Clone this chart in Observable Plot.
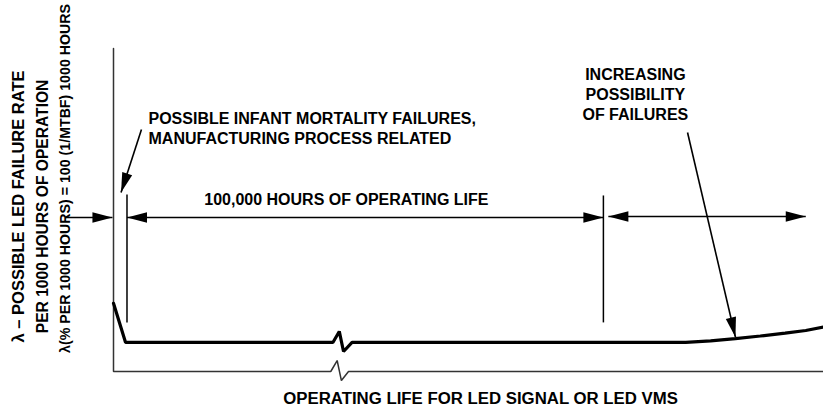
<!DOCTYPE html>
<html><head><meta charset="utf-8">
<script src="https://cdn.jsdelivr.net/npm/d3@7"></script>
<script src="https://cdn.jsdelivr.net/npm/@observablehq/plot@0.6"></script>
<style>body{margin:0;background:#fff}</style>
</head><body><div id="chart"></div>
<script>
// Bathtub curve: x = relative operating life (0-100), y = relative failure rate (0-100)
const curveLife = [0, 1.7, 30.9, 31.8, 32.4, 33.6, 80.6, 84.1, 87.6, 91.1, 94.6, 97.5, 100];
const curveRate = [21.1, 9.0, 9.0, 12.4, 6.2, 9.0, 9.0, 9.5, 10.2, 11.0, 11.9, 12.7, 13.8];

// axes (with break on the life axis)
const axisLife = [0, 0, 30.6, 31.5, 32.1, 33.1, 100];
const axisRate = [100, 0, 0, 3.4, -2.8, 0, 0];

// vertical boundary markers
const markerLife = [1.9, 69.0];
const markerTop = [54.8, 54.5];
const markerBottom = [15.2, 15.2];

// arrows
const arrowX1 = [-6.8, 1.9, 69.7, 3.94, 80.85];
const arrowY1 = [47.7, 47.7, 48.0, 74.9, 74.0];
const arrowX2 = [-0.15, 69.0, 97.5, 1.06, 87.6];
const arrowY2 = [47.7, 47.7, 48.0, 55.4, 10.6];
const arrowBoth = [false, true, true, false, false];

// text labels
const labelText = [
  "POSSIBLE INFANT MORTALITY FAILURES,\nMANUFACTURING PROCESS RELATED",
  "100,000 HOURS OF OPERATING LIFE",
  "INCREASING\nPOSSIBILITY\nOF FAILURES",
  "OPERATING LIFE FOR LED SIGNAL OR LED VMS"
];
const labelLife = [4.93, 32.8, 73.5, 51.7];
const labelRate = [70.4, 51.4, 78.0, -10.2];
const labelAnchor = ["start", "middle", "middle", "middle"];
const labelSize = [16, 16, 16, 16.8];

const yLabelText = [
  "\u03bb \u2013 POSSIBLE LED FAILURE RATE",
  "PER 1000 HOURS OF OPERATION",
  "\u03bb(% PER 1000 HOURS) = 100 (1/MTBF) 1000 HOURS"
];
const yLabelLife = [-13.4, -9.86, -6.83];
const yLabelRate = [51.1, 51.1, 59.75];
const yLabelSize = [16.5, 15.6, 14.2];

const W = 823, H = 408, mL = 113, mR = 0, mT = 48, mB = 37;
const xDomain = [0, 100], yDomain = [0, 100];
// mirror of the plot scales, only used to orient arrowheads
const sx = d3.scaleLinear(xDomain, [mL, W - mR]);
const sy = d3.scaleLinear(yDomain, [H - mB, mT]);

function headSymbol(angle, len = 20, hw = 5.2) {
  const ux = Math.cos(angle), uy = Math.sin(angle);
  return {
    draw(ctx) {
      ctx.moveTo(0, 0);
      ctx.lineTo(-ux * len - uy * hw, -uy * len + ux * hw);
      ctx.lineTo(-ux * len + uy * hw, -uy * len - ux * hw);
      ctx.closePath();
    }
  };
}

const curve = curveLife.map((x, i) => ({x, y: curveRate[i]}));
const axis = axisLife.map((x, i) => ({x, y: axisRate[i]}));
const markers = markerLife.map((x, i) => ({x, y1: markerBottom[i], y2: markerTop[i]}));
const arrows = arrowX1.map((x1, i) => ({x1, y1: arrowY1[i], x2: arrowX2[i], y2: arrowY2[i], both: arrowBoth[i]}));
const labels = labelText.map((t, i) => ({t, x: labelLife[i], y: labelRate[i], a: labelAnchor[i], s: labelSize[i]}));
const yLabels = yLabelText.map((t, i) => ({t, x: yLabelLife[i], y: yLabelRate[i], s: yLabelSize[i]}));

const headMarks = [];
for (const a of arrows) {
  const ang = Math.atan2(sy(a.y2) - sy(a.y1), sx(a.x2) - sx(a.x1));
  headMarks.push(Plot.dot([a], {x: "x2", y: "y2", symbol: headSymbol(ang), fill: "black", stroke: "none", r: 5}));
  if (a.both) {
    headMarks.push(Plot.dot([a], {x: "x1", y: "y1", symbol: headSymbol(ang + Math.PI), fill: "black", stroke: "none", r: 5}));
  }
}

const font = "'Liberation Sans', Arial, Helvetica, sans-serif";

const chart = Plot.plot({
  width: W, height: H,
  marginLeft: mL, marginRight: mR, marginTop: mT, marginBottom: mB,
  x: {domain: xDomain, axis: null},
  y: {domain: yDomain, axis: null},
  style: {fontFamily: font, background: "white", color: "black", overflow: "visible"},
  marks: [
    Plot.line(axis, {x: "x", y: "y", stroke: "#333", strokeWidth: 1.5, strokeLinejoin: "miter"}),
    Plot.link(markers, {x1: "x", x2: "x", y1: "y1", y2: "y2", stroke: "black", strokeWidth: 1.5}),
    Plot.line(curve, {x: "x", y: "y", stroke: "black", strokeWidth: 3.2, strokeLinejoin: "miter"}),
    Plot.link(arrows, {x1: "x1", y1: "y1", x2: "x2", y2: "y2", stroke: "black", strokeWidth: 1.6}),
    ...headMarks,
    ...labels.map(l => Plot.text([l], {x: "x", y: "y", text: "t", textAnchor: l.a, lineAnchor: "bottom", lineHeight: 1.23,
      fontSize: l.s, fontWeight: "bold", fill: "black"})),
    ...yLabels.map(l => Plot.text([l], {x: "x", y: "y", text: "t", rotate: -90, textAnchor: "middle", lineAnchor: "middle",
      fontSize: l.s, fontWeight: "bold", fill: "black"}))
  ]
});
document.getElementById("chart").appendChild(chart);
</script>
</body></html>
